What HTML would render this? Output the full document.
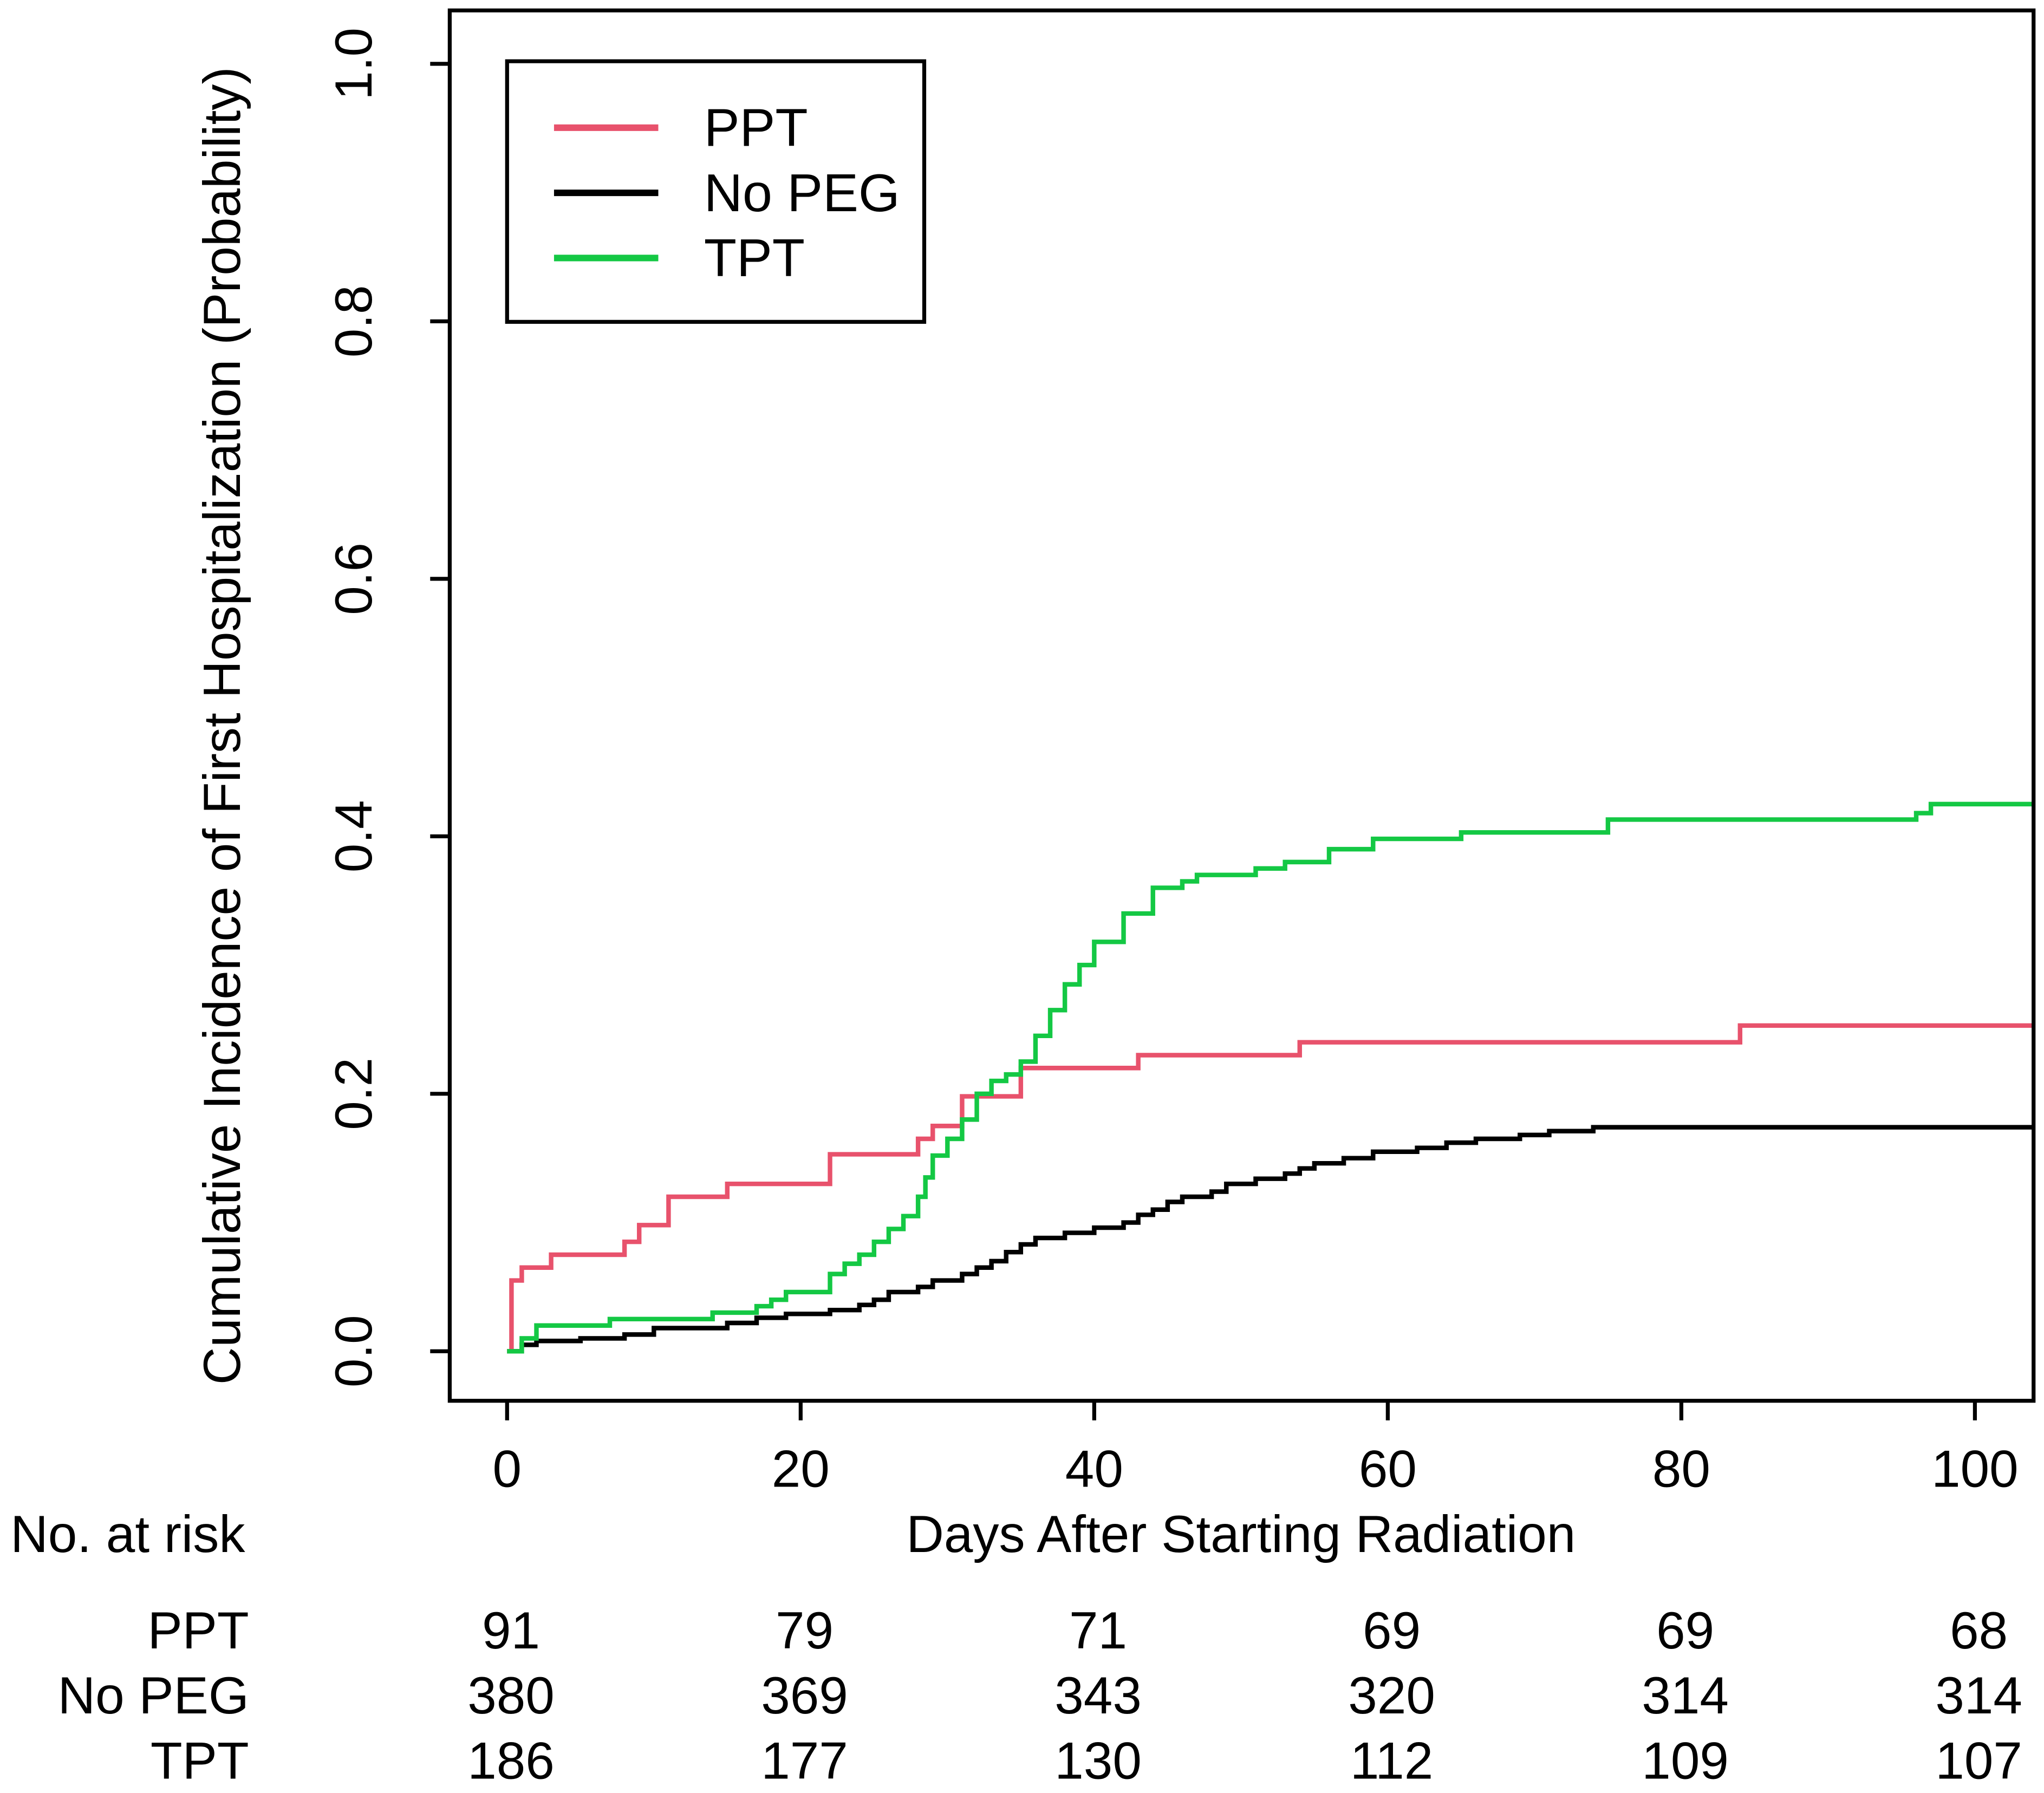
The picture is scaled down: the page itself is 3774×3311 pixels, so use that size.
<!DOCTYPE html>
<html><head><meta charset="utf-8"><style>
html,body{margin:0;padding:0;background:#fff}
svg{display:block}
text{font-family:"Liberation Sans",Arial,sans-serif;fill:#000}
</style></head><body>
<svg id="chart" width="3774" height="3311" viewBox="0 0 1568 1376" preserveAspectRatio="none" xmlns="http://www.w3.org/2000/svg">
<rect x="0" y="0" width="1568" height="1376" fill="#fff"/>
<g id="axes"></g>
<g id="series"></g>
<rect x="345" y="8" width="1215" height="1067" fill="none" stroke="#000" stroke-width="3"/>
<g>
<rect x="389" y="47" width="320" height="200" fill="#fff" stroke="#000" stroke-width="3"/>
<line x1="425" y1="98" x2="505" y2="98" stroke="#E8526C" stroke-width="5"/>
<text x="540" y="112" font-size="41">PPT</text>
<line x1="425" y1="148" x2="505" y2="148" stroke="#000" stroke-width="5"/>
<text x="540" y="162" font-size="41">No PEG</text>
<line x1="425" y1="198" x2="505" y2="198" stroke="#14C844" stroke-width="5"/>
<text x="540" y="212" font-size="41">TPT</text>
</g>
<text transform="translate(184,557) rotate(-90)" text-anchor="middle" font-size="40">Cumulative Incidence of First Hospitalization (Probability)</text>
<text x="952" y="1191" text-anchor="middle" font-size="40">Days After Starting Radiation</text>
<text x="8" y="1191" font-size="40">No. at risk</text>
<g id="risk"></g>
</svg>
<script>
const xTicks = [0, 20, 40, 60, 80, 100];
const yTicks = [0.0, 0.2, 0.4, 0.6, 0.8, 1.0];
const yTickLabels = ["0.0", "0.2", "0.4", "0.6", "0.8", "1.0"];
const pptDays = [0,0.3,1,3,8,9,11,15,22,28,29,31,35,43,54,84,104];
const pptVals = [0,0.055,0.065,0.075,0.085,0.098,0.12,0.13,0.153,0.165,0.175,0.198,0.22,0.23,0.24,0.253,0.253];
const noPegDays = [0,1,2,5,8,10,15,17,19,22,24,25,26,28,29,31,32,33,34,35,36,38,40,42,43,44,45,46,48,49,51,53,54,55,57,59,62,64,66,69,71,74,104];
const noPegVals = [0,0.005,0.008,0.01,0.013,0.018,0.022,0.026,0.029,0.032,0.036,0.04,0.046,0.05,0.055,0.06,0.065,0.07,0.077,0.083,0.088,0.092,0.096,0.1,0.106,0.11,0.116,0.12,0.124,0.13,0.134,0.138,0.142,0.146,0.15,0.155,0.158,0.162,0.165,0.168,0.171,0.174,0.174];
const tptDays = [0,1,2,7,14,17,18,19,22,23,24,25,26,27,28,28.5,29,30,31,32,33,34,35,36,37,38,39,40,42,44,46,47,51,53,56,59,65,75,96,97,104];
const tptVals = [0,0.01,0.02,0.025,0.03,0.035,0.04,0.046,0.06,0.068,0.075,0.085,0.095,0.105,0.12,0.135,0.152,0.165,0.18,0.2,0.21,0.215,0.225,0.245,0.265,0.285,0.3,0.318,0.34,0.36,0.365,0.37,0.375,0.38,0.39,0.398,0.403,0.413,0.418,0.425,0.425];
const riskGroups = ["PPT", "No PEG", "TPT"];
const riskPPT = [91, 79, 71, 69, 69, 68];
const riskNoPeg = [380, 369, 343, 320, 314, 314];
const riskTPT = [186, 177, 130, 112, 109, 107];

const NS = "http://www.w3.org/2000/svg";
const xScale = d => 389 + d * (1515 - 389) / 100;
const yScale = v => 1037 - v * (1037 - 49);
function mk(tag, attrs, parent) {
  const e = document.createElementNS(NS, tag);
  for (const k in attrs) e.setAttribute(k, attrs[k]);
  parent.appendChild(e);
  return e;
}
const axes = document.getElementById('axes');
xTicks.forEach(t => {
  const l = mk('line', {x1: xScale(t), x2: xScale(t), y1: 1075, y2: 1090, stroke: '#000', 'stroke-width': 3}, axes);
  
  
  const tx = mk('text', {x: xScale(t), y: 1141, 'text-anchor': 'middle', 'font-size': 40}, axes);
  tx.textContent = t;
  
  
});
yTicks.forEach((t, i) => {
  const l = mk('line', {x1: 330, x2: 345, y1: yScale(t), y2: yScale(t), stroke: '#000', 'stroke-width': 3}, axes);
  
  
  const tx = mk('text', {transform: `translate(285,${yScale(t)}) rotate(-90)`, 'text-anchor': 'middle', 'font-size': 40}, axes);
  tx.textContent = yTickLabels[i];
  
  
});
const series = document.getElementById('series');
function stepPath(days, vals) {
  let d = `M${xScale(days[0])},${yScale(vals[0])}`;
  for (let i = 1; i < days.length; i++) {
    d += ` H${xScale(days[i])} V${yScale(vals[i])}`;
  }
  return d;
}
const p1 = mk('path', {d: stepPath(noPegDays, noPegVals), fill: 'none', stroke: '#000', 'stroke-width': 3.5}, series);


const p2 = mk('path', {d: stepPath(pptDays, pptVals), fill: 'none', stroke: '#E8526C', 'stroke-width': 3.5}, series);


const p3 = mk('path', {d: stepPath(tptDays, tptVals), fill: 'none', stroke: '#14C844', 'stroke-width': 3.5}, series);



const risk = document.getElementById('risk');
const rows = [riskPPT, riskNoPeg, riskTPT];
rows.forEach((row, r) => {
  const y = 1265 + r * 50;
  const lab = mk('text', {x: 191, y: y, 'text-anchor': 'end', 'font-size': 40}, risk);
  lab.textContent = riskGroups[r];
  
  
  row.forEach((n, i) => {
    const t = mk('text', {x: xScale(xTicks[i]) + 3, y: y, 'text-anchor': 'middle', 'font-size': 40}, risk);
    t.textContent = n;
    
    
  });
});
</script>
</body></html>
